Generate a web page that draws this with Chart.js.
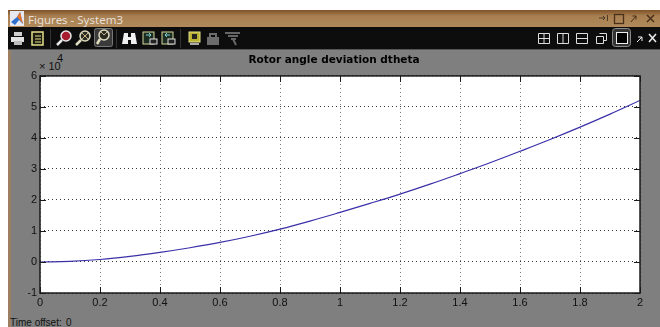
<!DOCTYPE html>
<html>
<head>
<meta charset="utf-8">
<title>Rotor angle deviation dtheta</title>
<script src="https://cdn.jsdelivr.net/npm/chart.js@4"></script>
<style>
    html, body { margin: 0; padding: 0; background: #fff; overflow: hidden; }
    #page { position: relative; width: 660px; height: 327px; overflow: hidden; }
    #titlebar { position: absolute; left: 8px; top: 10px; width: 652px; height: 17px; background: linear-gradient(#7d5228, #a87f50 35%, #b08a5c); }
    #toolbar { position: absolute; left: 8px; top: 27px; width: 652px; height: 23px; background: #0d0d0d; border-bottom: 1px solid #555; box-sizing: border-box; }
    #figure { position: absolute; left: 8px; top: 50px; width: 652px; height: 277px; background: #7f7f7f; border-left: 3px solid #9c7f62; box-sizing: border-box; }
    #icons { position: absolute; left: 0; top: 0; }
    #wrap { position: absolute; left: 0; top: 0; width: 660px; height: 327px; }
    .label { position: absolute; white-space: nowrap; font-family: "Liberation Sans", sans-serif; color: #111; }
</style>
</head>
<body>
<div id="page">
    <div id="titlebar"></div>
    <div id="toolbar"></div>
    <div id="figure"></div>

    <svg id="icons" width="660" height="327" fill="none">
        <!-- window logo -->
        <rect x="10" y="11" width="14" height="15" fill="#e8e8f0"/>
        <path d="M11 22 L17 17 L20 12 L23 24 L19 20 L15 25 Z" fill="#2f6fd0"/>
        <path d="M17 17 L20 12 L23 24 L20 20 Z" fill="#e8742a"/>

        <!-- printer, clipboard -->
        <path d="M14 32 H22 V36 H14 Z" fill="#cfcfcf"/>
        <path d="M11 37 H24 V42 H11 Z" fill="#e2e2e2"/>
        <path d="M14 41 H22 V45 H14 Z" fill="#bdbdbd"/>
        <rect x="32" y="32" width="11" height="13" fill="#1c1c10" stroke="#e4e08a" stroke-width="1.5"/>
        <path d="M35 36 H41 M35 39 H41 M35 42 H41" stroke="#e4e08a"/>

        <path d="M50.5 29 V48 M116.5 29 V48 M180.5 29 V48" stroke="#333"/>

        <!-- zoom in, zoom out, selected pan -->
        <circle cx="66" cy="36" r="5" fill="#a81c30" stroke="#e8e8e8" stroke-width="1.5"/>
        <path d="M62 40 L57 45" stroke="#e8e8e8" stroke-width="2.5"/>
        <circle cx="85" cy="36" r="5" fill="#2a2a20" stroke="#e0dcc0" stroke-width="1.5"/>
        <path d="M82 33 L88 39 M88 33 L82 39" stroke="#c9b48a"/>
        <path d="M81 40 L76 45" stroke="#e0dcc0" stroke-width="2.5"/>
        <rect x="94.5" y="28.5" width="18" height="18" rx="2" fill="#3a3a3a" stroke="#777"/>
        <circle cx="104" cy="35" r="5" fill="#2a2a20" stroke="#e0dcc0" stroke-width="1.5"/>
        <path d="M101 32 L104 35 L107 32" stroke="#c9b48a"/>
        <path d="M100 39 L97 44" stroke="#e0dcc0" stroke-width="2.5"/>

        <!-- binoculars -->
        <path d="M124 33 H128 V37 H131 V33 H135 L137 44 H131 V40 H128 V44 H122 Z" fill="#f0f0f0"/>

        <!-- doc icons -->
        <rect x="143" y="32" width="11" height="12" fill="#1c2c20" stroke="#d4d89a"/>
        <rect x="150" y="39" width="7" height="5" fill="#222" stroke="#ddd"/>
        <path d="M146 35 H151 M149 33 L151 35 L149 37" stroke="#7fd0d0"/>
        <rect x="162" y="32" width="11" height="12" fill="#1c2c20" stroke="#d4d89a"/>
        <rect x="168" y="39" width="7" height="5" fill="#222" stroke="#ddd"/>
        <path d="M165 35 H170 M167 33 L165 35 L167 37" stroke="#7fd0d0"/>

        <!-- chip, lock, cursor -->
        <rect x="189" y="32" width="11" height="10" fill="#b8b030" stroke="#e4e08a"/>
        <rect x="192" y="34" width="5" height="5" fill="#222"/>
        <path d="M190 44 H199" stroke="#aaa" stroke-width="2"/>
        <rect x="207" y="37" width="12" height="8" fill="#6c6c6c"/>
        <path d="M210 37 V34 H216 V37" stroke="#6c6c6c" stroke-width="2"/>
        <path d="M225 33 H240 M228 36 H238 M231 39 H236 M233 39 L236 45" stroke="#666" stroke-width="2"/>

        <!-- layout buttons on the right -->
        <path d="M538.5 33.5 H549.5 V43.5 H538.5 Z M544 33.5 V43.5 M538.5 38.5 H549.5" stroke="#ddd"/>
        <path d="M557.5 33.5 H568.5 V43.5 H557.5 Z M563 33.5 V43.5" stroke="#ddd"/>
        <path d="M576.5 33.5 H587.5 V43.5 H576.5 Z M576.5 38.5 H587.5" stroke="#ddd"/>
        <path d="M599.5 33.5 H606.5 V40.5 H603 M596.5 36.5 H603.5 V43.5 H596.5 Z" stroke="#ddd"/>
        <rect x="612.5" y="28.5" width="18" height="18" rx="3" fill="#333" stroke="#888"/>
        <rect x="616.5" y="32.5" width="11" height="11" fill="#000" stroke="#eee"/>
        <path d="M637 42 L642 37 M638 37 H642 V41" stroke="#eee"/>
        <path d="M649 34 L656 42 M656 34 L649 42" stroke="#eee" stroke-width="1.5"/>

        <!-- title bar buttons -->
        <path d="M599 18 H605 M603 16 L605 18 L603 20 M607.5 15 V21" stroke="#4a3a2a"/>
        <rect x="614.5" y="14.5" width="9" height="9" stroke="#4a3018" stroke-width="1.3"/>
        <path d="M631 22 L636 16 M632.5 16 H636 V19.5" stroke="#4a3018"/>
        <path d="M647 15 L654 22 M654 15 L647 22" stroke="#4a3018" stroke-width="1.5"/>
    </svg>

    <span class="label" style="left:28px; top:12px; font:11.5px 'Noto Sans', sans-serif; color:#e6dfd6;">Figures - System3</span>
    <span class="label" style="left:39px; top:60px; font-size:11px;">&#215; 10</span>
    <span class="label" style="left:57px; top:52px; font-size:11px;">4</span>
    <span class="label" style="left:10px; top:317px; font-size:10px;">Time offset:</span>
    <span class="label" style="left:66px; top:317px; font-size:10px;">0</span>

    <div id="wrap"><canvas id="dtheta"></canvas></div>
</div>

<script>
    const timeValues = [0, 0.1, 0.2, 0.3, 0.4, 0.5, 0.6, 0.7, 0.8, 0.9, 1, 1.1, 1.2, 1.3, 1.4, 1.5, 1.6, 1.7, 1.8, 1.9, 2];
    const dthetaValues = [0, 200, 800, 1800, 3100, 4600, 6300, 8300, 10600, 13200, 16000, 18900, 21900, 25100, 28500, 32000, 35700, 39500, 43500, 47700, 52100];
    const xTicks = [0, 0.2, 0.4, 0.6, 0.8, 1, 1.2, 1.4, 1.6, 1.8, 2];
    const yTicks = [-10000, 0, 10000, 20000, 30000, 40000, 50000, 60000];

    // MATLAB style frame and inward tick marks
    const scopeFrame = {
        id: 'scopeFrame',
        afterDatasetsDraw(chart) {
            const {ctx, chartArea: a, scales} = chart;
            ctx.save();
            ctx.strokeStyle = '#1a1a1a';
            ctx.lineWidth = 1;
            ctx.beginPath();
            xTicks.forEach(v => {
                const px = Math.round(scales.x.getPixelForValue(v)) + 0.5;
                ctx.moveTo(px, a.bottom);
                ctx.lineTo(px, a.bottom - 6);
                ctx.moveTo(px, a.top);
                ctx.lineTo(px, a.top + 6);
            });
            yTicks.forEach(v => {
                const py = Math.round(scales.y.getPixelForValue(v)) + 0.5;
                ctx.moveTo(a.left, py);
                ctx.lineTo(a.left + 6, py);
                ctx.moveTo(a.right, py);
                ctx.lineTo(a.right - 6, py);
            });
            ctx.stroke();
            ctx.lineWidth = 1.5;
            ctx.strokeRect(a.left, a.top, a.right - a.left, a.bottom - a.top);
            ctx.restore();
        }
    };

    const plotBackground = {
        id: 'plotBackground',
        beforeDraw(chart) {
            const {ctx, chartArea: a} = chart;
            ctx.save();
            ctx.fillStyle = '#fff';
            ctx.fillRect(a.left, a.top, a.right - a.left, a.bottom - a.top);
            ctx.restore();
        }
    };

    const tickFont = {family: '"Liberation Sans", sans-serif', size: 11};

    new Chart(document.getElementById('dtheta'), {
        type: 'line',
        data: {
            datasets: [{
                label: 'dtheta',
                data: timeValues.map((t, i) => ({x: t, y: dthetaValues[i]})),
                borderColor: '#3a30a8',
                borderWidth: 1.2,
                pointRadius: 0,
                tension: 0.4,
                fill: false
            }]
        },
        plugins: [plotBackground, scopeFrame],
        options: {
            responsive: true,
            maintainAspectRatio: false,
            animation: false,
            layout: {
                padding: {left: 28, right: 20, top: 54, bottom: 0}
            },
            plugins: {
                legend: {display: false},
                tooltip: {enabled: false},
                title: {
                    display: true,
                    text: 'Rotor angle deviation dtheta',
                    color: '#000',
                    font: {family: '"DejaVu Sans"', size: 10.5, weight: 'bold', lineHeight: 1.1},
                    padding: {top: 0, bottom: 10.4}
                }
            },
            scales: {
                x: {
                    type: 'linear',
                    min: 0,
                    max: 2,
                    afterBuildTicks: axis => { axis.ticks = xTicks.map(value => ({value})); },
                    afterFit: axis => { axis.height = 34; },
                    grid: {color: 'rgba(60,60,60,0.7)', drawTicks: false},
                    border: {dash: [1, 3], display: false},
                    ticks: {
                        color: '#111',
                        font: tickFont,
                        padding: 3,
                        maxRotation: 0,
                        autoSkip: false,
                        callback: value => value
                    }
                },
                y: {
                    min: -10000,
                    max: 60000,
                    afterBuildTicks: axis => { axis.ticks = yTicks.map(value => ({value})); },
                    afterFit: axis => { axis.width = 12; },
                    grid: {color: 'rgba(20,20,20,0.85)', drawTicks: false},
                    border: {dash: [1, 3], display: false},
                    ticks: {
                        color: '#111',
                        font: tickFont,
                        padding: 3,
                        callback: value => value / 10000
                    }
                }
            }
        }
    });
</script>
</body>
</html>
